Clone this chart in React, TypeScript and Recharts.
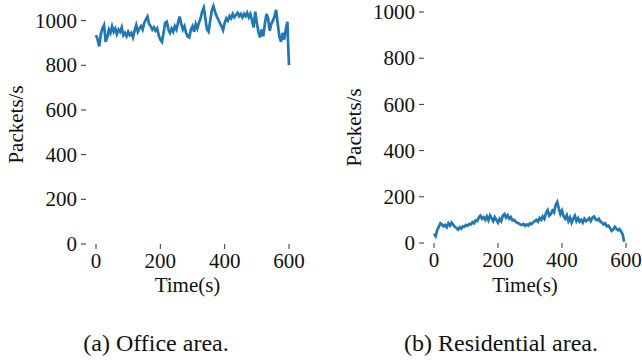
import { LineChart, Line, XAxis, YAxis } from "recharts"

const FONT = "Liberation Serif"
const LINE_COLOR = "#1f77b4"

const timeTicks = [0, 200, 400, 600]
const rateTicks = [0, 200, 400, 600, 800, 1000]

// Office area, packets/s sampled every ~5 s
const officeTime = [
  0, 5, 10, 15, 20, 25, 30, 35, 40, 45, 50, 55, 60, 65, 70, 75, 80, 85, 90, 95,
  100, 105, 110, 115, 120, 125, 130, 135, 140, 145, 150, 155, 160, 165, 170, 175, 180, 185, 190, 195,
  200, 205, 210, 215, 220, 225, 230, 235, 240, 245, 250, 255, 260, 265, 270, 275, 280, 285, 290, 295,
  300, 305, 310, 315, 320, 325, 330, 335, 340, 345, 350, 355, 360, 365, 370, 375, 380, 385, 390, 395,
  400, 405, 410, 415, 420, 425, 430, 435, 440, 445, 450, 455, 460, 465, 470, 475, 480, 485, 490, 495,
  500, 505, 510, 515, 520, 525, 530, 535, 540, 545, 550, 555, 560, 565, 570, 575, 580, 585, 590, 595,
  597, 600,
]
const officeRate = [
  935, 915, 885, 940, 965, 980, 905, 925, 960, 945, 975, 950, 965, 940, 960, 950, 970, 935, 945, 930,
  950, 935, 945, 925, 955, 980, 950, 965, 975, 960, 990, 1005, 1018, 985, 975, 960, 970, 955, 965, 935,
  915, 905, 945, 990, 995, 960, 945, 965, 950, 975, 960, 990, 1018, 985, 960, 975, 945, 930, 925, 960,
  975, 950, 985, 965, 990, 1010, 1040, 1058, 1010, 960, 950, 1000, 1045, 1065, 1040, 1020, 1005, 990, 975, 958,
  990, 1010, 1000, 1020, 1010, 1030, 1015, 1025, 1035, 1020, 1030, 1015, 1030, 1020, 1035, 1015, 1030, 1000, 970, 1040,
  990, 950, 925, 960, 930, 985, 1030, 1010, 955, 985, 1000, 1020, 1048, 985, 930, 905, 945, 915, 960, 995,
  905, 800,
]

// Residential area
const residentialTime = [
  0, 5, 10, 15, 20, 25, 30, 35, 40, 45, 50, 55, 60, 65, 70, 75, 80, 85, 90, 95,
  100, 105, 110, 115, 120, 125, 130, 135, 140, 145, 150, 155, 160, 165, 170, 175, 180, 185, 190, 195,
  200, 205, 210, 215, 220, 225, 230, 235, 240, 245, 250, 255, 260, 265, 270, 275, 280, 285, 290, 295,
  300, 305, 310, 315, 320, 325, 330, 335, 340, 345, 350, 355, 360, 365, 370, 375, 380, 385, 390, 395,
  400, 405, 410, 415, 420, 425, 430, 435, 440, 445, 450, 455, 460, 465, 470, 475, 480, 485, 490, 495,
  500, 505, 510, 515, 520, 525, 530, 535, 540, 545, 550, 555, 560, 565, 570, 575, 580, 585, 590, 594,
]
const residentialRate = [
  40, 30, 55, 70, 85, 80, 72, 78, 68, 85, 75, 88, 78, 70, 65, 58, 68, 62, 72, 70,
  78, 75, 82, 80, 90, 85, 98, 95, 110, 118, 105, 112, 100, 115, 98, 120, 108, 95, 112, 100,
  88, 105, 95, 118, 125, 110, 120, 105, 112, 98, 100, 92, 88, 85, 80, 78, 82, 74, 80, 76,
  85, 82, 90, 95, 100, 92, 108, 100, 115, 105, 130, 142, 118, 125, 140, 132, 165, 178, 150, 125,
  140, 115, 105, 120, 95, 110, 88, 105, 118, 95, 108, 92, 100, 88, 105, 95, 100, 108, 95, 110,
  115, 102, 98, 105, 92, 88, 80, 85, 72, 75, 65, 52, 58, 70, 62, 55, 60, 50, 35, 5,
]

const toRows = (time: number[], rate: number[]) =>
  time.map((t, i) => ({ t, rate: rate[i] }))

function XTick({ x, y, payload }: any) {
  return (
    <text x={x} y={y} dy="0.71em" textAnchor="middle" fill="#111" fontSize={21} fontFamily={FONT}>
      {payload.value}
    </text>
  )
}

function YTick({ x, y, payload }: any) {
  return (
    <text x={x} y={y} dy="0.34em" textAnchor="end" fill="#111" fontSize={21} fontFamily={FONT}>
      {payload.value}
    </text>
  )
}

interface PanelProps {
  time: number[]
  rate: number[]
  left: number
  width: number
  marginTop: number
  marginRight: number
  yWidth: number
  xHeight: number
  yMax: number
  caption: string
  captionShift: number
}

function Panel(p: PanelProps) {
  return (
    <div
      style={{
        position: "absolute",
        left: p.left,
        top: 0,
        width: p.width,
        height: 360,
        fontFamily: FONT,
      }}
    >
      <LineChart
        width={p.width}
        height={300}
        data={toRows(p.time, p.rate)}
        margin={{ top: p.marginTop, right: p.marginRight, bottom: 0, left: 0 }}
      >
        <XAxis
          dataKey="t"
          type="number"
          domain={[0, 600]}
          ticks={timeTicks}
          padding={{ left: 10, right: 0 }}
          height={p.xHeight}
          axisLine={false}
          tickSize={5}
          tickMargin={4}
          tickLine={{ stroke: "#333" }}
          tick={<XTick />}
          label={{
            value: "Time(s)",
            position: "insideBottom",
            offset: 8,
            fill: "#111",
            fontSize: 21,
            fontFamily: FONT,
          }}
        />
        <YAxis
          type="number"
          domain={[0, p.yMax]}
          ticks={rateTicks}
          width={p.yWidth}
          axisLine={false}
          tickSize={5}
          tickMargin={4}
          tickLine={{ stroke: "#333" }}
          tick={<YTick />}
          label={{
            value: "Packets/s",
            angle: -90,
            position: "insideLeft",
            offset: p.yWidth - 70,
            fill: "#111",
            fontSize: 21,
            fontFamily: FONT,
            style: { textAnchor: "middle" },
          }}
        />
        <Line
          type="linear"
          dataKey="rate"
          stroke={LINE_COLOR}
          strokeWidth={2.7}
          dot={false}
          isAnimationActive={false}
        />
      </LineChart>
      <div
        style={{
          position: "absolute",
          top: 331,
          left: p.captionShift,
          width: p.width,
          textAlign: "center",
          fontFamily: FONT,
          fontSize: 24,
          lineHeight: "24px",
          color: "#111",
        }}
      >
        {p.caption}
      </div>
    </div>
  )
}

export default function App() {
  return (
    <div style={{ position: "absolute", left: 0, top: 0, width: 642, height: 360, background: "#fff" }}>
      <Panel
        time={officeTime}
        rate={officeRate}
        left={0}
        width={320}
        marginTop={5}
        marginRight={31}
        yWidth={86}
        xHeight={56}
        yMax={1070}
        caption="(a) Office area."
        captionShift={-4}
      />
      <Panel
        time={residentialTime}
        rate={residentialRate}
        left={320}
        width={322}
        marginTop={12}
        marginRight={16}
        yWidth={104}
        xHeight={57}
        yMax={1000}
        caption="(b) Residential area."
        captionShift={20}
      />
    </div>
  )
}
